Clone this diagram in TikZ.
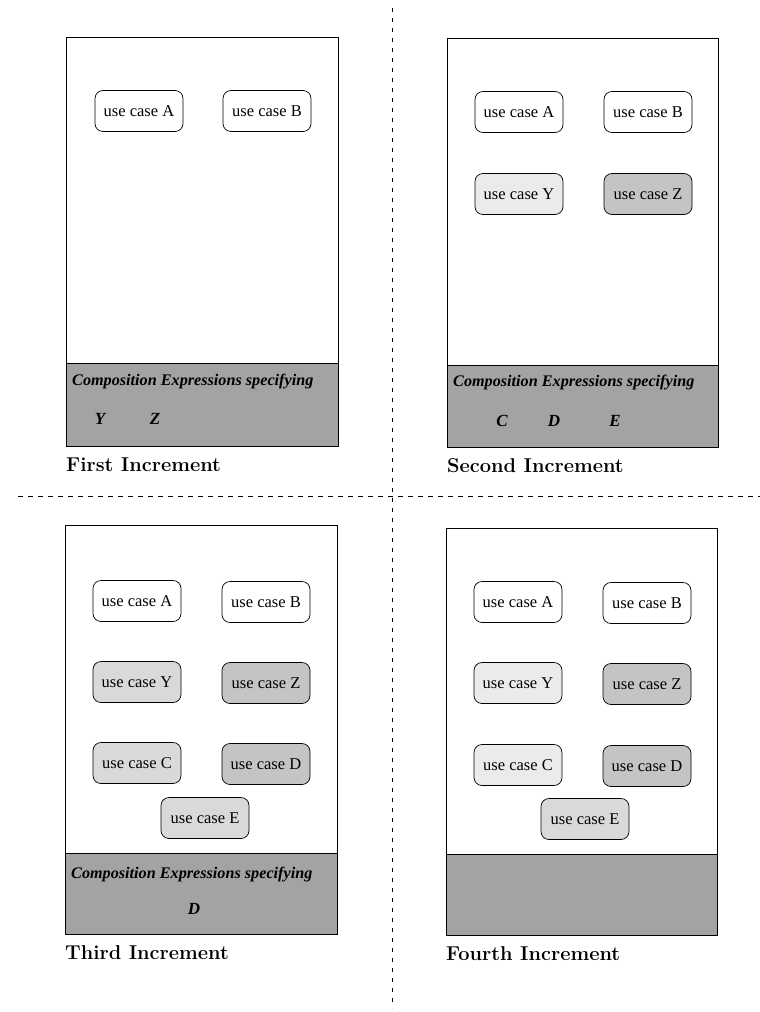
\documentclass[tikz,border=0pt]{standalone}
\usepackage{fontspec}
\newfontfamily\timesf{Liberation Serif}
\begin{document}
\begin{tikzpicture}[x=1pt,y=-1pt,
  panel/.style={draw=black,line width=0.8pt,fill=white},
  band/.style={draw=black,line width=0.8pt,fill=black!36},
  uc/.style={draw=black,line width=0.7pt,rounded corners=8pt,minimum width=88pt,minimum height=41pt,inner sep=0pt,font=\timesf\fontsize{16.5}{16.5}\selectfont},
  ucw/.style={uc,fill=white},
  ucl/.style={uc,fill=black!8},
  ucm/.style={uc,fill=black!15},
  ucd/.style={uc,fill=black!23},
  comp/.style={anchor=base west,inner sep=0pt,font=\timesf\bfseries\itshape\fontsize{16.2}{17}\selectfont},
  letter/.style={anchor=base,inner sep=0pt,font=\timesf\bfseries\itshape\fontsize{17}{17}\selectfont},
  title/.style={anchor=base west,inner sep=0pt,font=\bfseries\fontsize{20}{21}\selectfont},
  sep/.style={draw=black,line width=0.7pt}
]
\useasboundingbox (0,0) rectangle (760,1012);
\fill[white] (0,0) rectangle (760,1012);

% separators
\coordinate (vt) at (392,8);
\coordinate (vb) at (392,1008);
\coordinate (hl) at (18,496);
\coordinate (hr) at (760,496);
\draw[sep,dash pattern=on 4pt off 6pt] (vt) -- (vb);
\draw[sep,dash pattern=on 5pt off 5pt] (hl) -- (hr);

% ---------- First increment ----------
\draw[panel] (66,37) rectangle (338,446);
\draw[band] (66,363) rectangle (338,446);
\node[comp] (c1) at (72,385) {Composition Expressions specifying};
\node[letter] (c1y) at (100,424) {Y};
\node[letter] (c1z) at (155,424) {Z};
\node[ucw] (a1) at (139,111) {use case A};
\node[ucw] (b1) at (267,111) {use case B};
\node[title] (t1) at (66,471) {First Increment};

% ---------- Second increment ----------
\draw[panel] (447,38) rectangle (718,447);
\draw[band] (447,365) rectangle (718,447);
\node[comp] (c2) at (453,386) {Composition Expressions specifying};
\node[letter] (c2c) at (502,426) {C};
\node[letter] (c2d) at (554,426) {D};
\node[letter] (c2e) at (615,426) {E};
\node[ucw] (a2) at (519,112) {use case A};
\node[ucw] (b2) at (648,112) {use case B};
\node[ucl] (y2) at (519,194) {use case Y};
\node[ucd] (z2) at (648,194) {use case Z};
\node[title] (t2) at (447,472) {Second Increment};

% ---------- Third increment ----------
\draw[panel] (65,525) rectangle (337,934);
\draw[band] (65,853) rectangle (337,934);
\node[comp] (c3) at (71,878) {Composition Expressions specifying};
\node[letter] (c3d) at (194,914) {D};
\node[ucw] (a3) at (137,601) {use case A};
\node[ucw] (b3) at (266,602) {use case B};
\node[ucm] (y3) at (137,682) {use case Y};
\node[ucd] (z3) at (266,683) {use case Z};
\node[ucm] (cc3) at (137,763) {use case C};
\node[ucd] (d3) at (266,764) {use case D};
\node[ucm] (e3) at (205,818) {use case E};
\node[title] (t3) at (65,959) {Third Increment};

% ---------- Fourth increment ----------
\draw[panel] (446,528) rectangle (717,935);
\draw[band] (446,854) rectangle (717,935);
\node[ucw] (a4) at (518,602) {use case A};
\node[ucw] (b4) at (647,603) {use case B};
\node[ucl] (y4) at (518,683) {use case Y};
\node[ucd] (z4) at (647,684) {use case Z};
\node[ucl] (cc4) at (518,765) {use case C};
\node[ucd] (d4) at (647,766) {use case D};
\node[ucm] (e4) at (585,819) {use case E};
\node[title] (t4) at (446,960) {Fourth Increment};
\end{tikzpicture}
\end{document}
